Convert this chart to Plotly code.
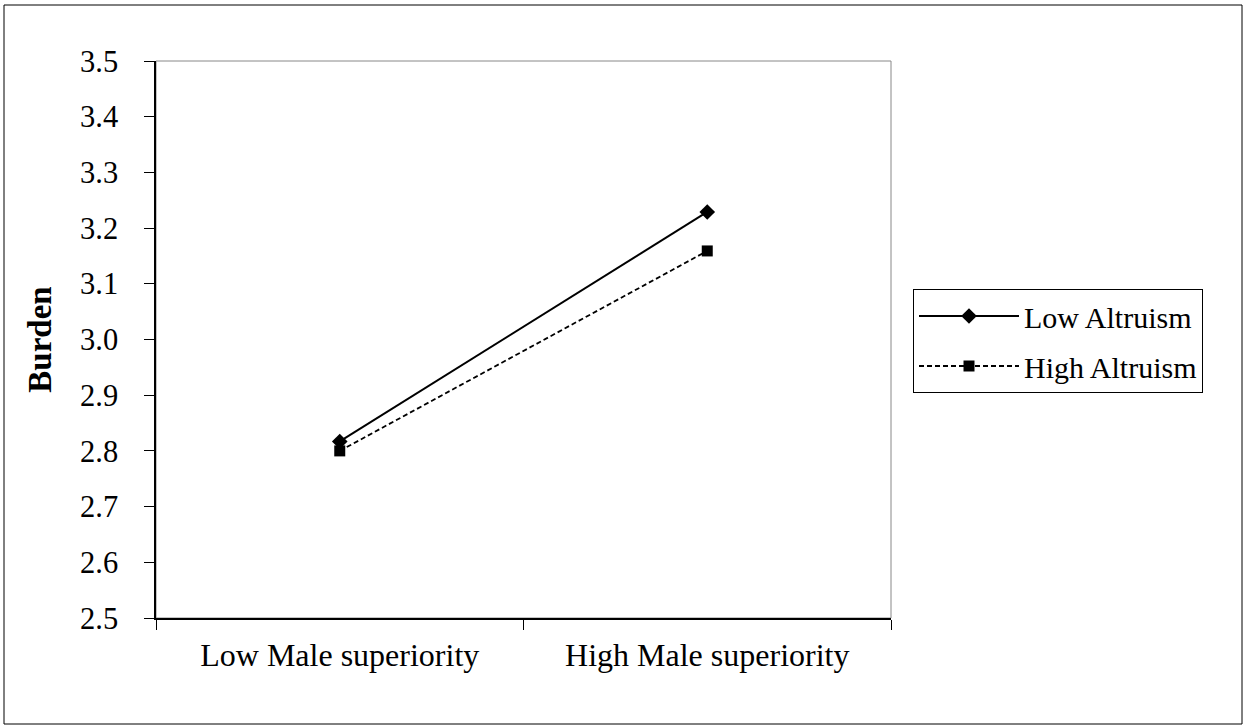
import plotly.graph_objects as go

categories = ["Low Male superiority", "High Male superiority"]
low_altruism = [2.817, 3.229]
high_altruism = [2.800, 3.159]
y_ticks = [2.5, 2.6, 2.7, 2.8, 2.9, 3.0, 3.1, 3.2, 3.3, 3.4, 3.5]
y_tick_labels = ["2.5", "2.6", "2.7", "2.8", "2.9", "3.0", "3.1", "3.2", "3.3", "3.4", "3.5"]

FONT = "Liberation Serif, Times New Roman, serif"

fig = go.Figure()
fig.add_trace(go.Scatter(
    x=categories, y=low_altruism, name="Low Altruism", mode="lines+markers",
    legendgroup="a",
    line=dict(color="black", width=2),
    marker=dict(symbol="diamond", size=12, color="black"),
))
fig.add_trace(go.Scatter(
    x=categories, y=high_altruism, name="High Altruism", mode="lines+markers",
    legendgroup="b",
    line=dict(color="black", width=1.8, dash="5px,3px"),
    marker=dict(symbol="square", size=11, color="black"),
))

W, H = 1246, 725
L, R, T, B = 156, 891, 61, 618
pw, ph = R - L, B - T

def px(xp):
    return (xp - L) / pw

def py(yp):
    return (B - yp) / ph

fig.update_layout(
    width=W, height=H,
    margin=dict(l=L, r=W - R, t=T, b=H - B),
    paper_bgcolor="white", plot_bgcolor="white",
    font=dict(family=FONT, size=30, color="black"),
    showlegend=True,
    legend=dict(
        x=px(913), y=py(289), xanchor="left", yanchor="top",
        bordercolor="black", borderwidth=1, bgcolor="white",
        font=dict(family=FONT, size=30, color="black"),
        itemwidth=100, tracegroupgap=8,
    ),
    xaxis=dict(
        type="category", range=[-0.5, 1.5], tickson="boundaries",
        ticks="outside", ticklen=10, tickwidth=1, tickcolor="black",
        showline=True, linecolor="black", linewidth=1.5,
        showgrid=False, zeroline=False,
        tickfont=dict(family=FONT, size=32, color="black"),
        ticklabelstandoff=8,
    ),
    yaxis=dict(
        range=[2.5, 3.5], tickvals=y_ticks, ticktext=y_tick_labels,
        ticks="outside", ticklen=10, tickwidth=1, tickcolor="black",
        showline=True, linecolor="black", linewidth=1.5,
        showgrid=False, zeroline=False,
        tickfont=dict(family=FONT, size=30.5, color="black"),
        ticklabelstandoff=20,
        title=dict(text="<b>Burden</b>", font=dict(family=FONT, size=33, color="black"), standoff=18),
    ),
    shapes=[
        dict(type="rect", xref="paper", yref="paper",
             x0=0, x1=1, y0=0, y1=1, line=dict(color="#888888", width=1), layer="below"),
        dict(type="rect", xref="paper", yref="paper",
             x0=px(4), x1=px(1242), y0=py(724), y1=py(5),
             line=dict(color="black", width=1), layer="below"),
    ],
)

fig.write_html("out.html", config={"displayModeBar": False},
               post_script="document.body.style.margin='0';")
